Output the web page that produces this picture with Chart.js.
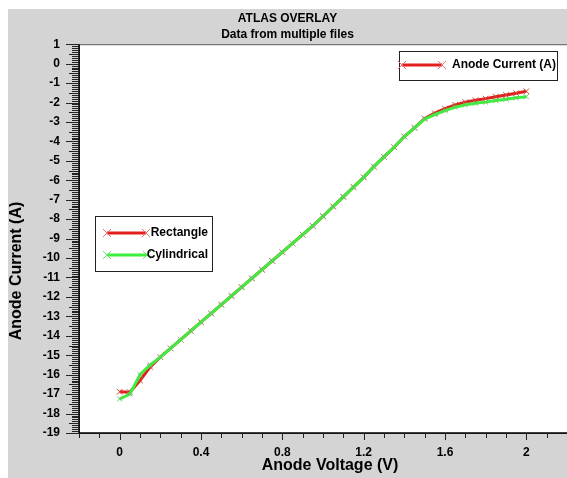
<!DOCTYPE html>
<html>
<head>
<meta charset="utf-8">
<script src="https://cdn.jsdelivr.net/npm/chart.js@4.4.0/dist/chart.umd.min.js"></script>
<style>
    html, body { margin: 0; padding: 0; background: #ffffff; }
    #wrap { position: absolute; left: 8px; top: 9px; width: 559px; height: 469px; background: #d4d4d4; }
</style>
</head>
<body>
<div id="wrap"><canvas id="atlasChart" width="559" height="469"></canvas></div>
<script>
    "use strict";

    // Anode voltage sweep (V)
    var voltage = [0, 0.05, 0.1, 0.15, 0.2, 0.25, 0.3, 0.35, 0.4, 0.45,
        0.5, 0.55, 0.6, 0.65, 0.7, 0.75, 0.8, 0.85, 0.9, 0.95,
        1.0, 1.05, 1.1, 1.15, 1.2, 1.25, 1.3, 1.35, 1.4, 1.45,
        1.5, 1.55, 1.6, 1.65, 1.7, 1.75, 1.8, 1.85, 1.9, 1.95, 2.0];

    // Anode current (A) for each file
    var rectangleCurrent = [-16.88, -16.9, -16.3, -15.6, -15.1, -14.65, -14.2, -13.75, -13.3, -12.85,
        -12.4, -11.95, -11.5, -11.05, -10.6, -10.15, -9.7, -9.25, -8.8, -8.35,
        -7.85, -7.35, -6.85, -6.35, -5.85, -5.3, -4.8, -4.3, -3.75, -3.3,
        -2.82, -2.55, -2.32, -2.12, -1.98, -1.88, -1.8, -1.7, -1.61, -1.52, -1.42];
    var cylindricalCurrent = [-17.25, -17.0, -16.0, -15.5, -15.1, -14.65, -14.2, -13.75, -13.3, -12.85,
        -12.4, -11.95, -11.5, -11.05, -10.6, -10.15, -9.7, -9.25, -8.8, -8.35,
        -7.85, -7.35, -6.85, -6.35, -5.85, -5.3, -4.8, -4.3, -3.75, -3.3,
        -2.85, -2.62, -2.42, -2.24, -2.12, -2.04, -1.98, -1.9, -1.83, -1.76, -1.7];

    var seriesNames = ['Rectangle', 'Cylindrical'];
    var overlayLegend = 'Anode Current (A)';
    var titleLines = ['ATLAS OVERLAY', 'Data from multiple files'];
    var xTitle = 'Anode Voltage (V)';
    var yTitle = 'Anode Current (A)';
    var xLabelTicks = [0, 0.4, 0.8, 1.2, 1.6, 2];

    var RED = '#e31e1e';
    var GREEN = '#3df03d';
    var FONT = 'Liberation Sans, Arial, sans-serif';

    function toPoints(ys) {
        return voltage.map(function (v, i) { return { x: v, y: ys[i] }; });
    }

    function drawCross(ctx, x, y, r, color) {
        ctx.save();
        ctx.strokeStyle = color;
        ctx.lineWidth = 1;
        ctx.beginPath();
        ctx.moveTo(x - r, y - r); ctx.lineTo(x + r, y + r);
        ctx.moveTo(x - r, y + r); ctx.lineTo(x + r, y - r);
        ctx.stroke();
        ctx.restore();
    }

    function legendLine(ctx, x1, x2, y, color, markColor) {
        ctx.save();
        ctx.strokeStyle = color;
        ctx.lineWidth = 3;
        ctx.beginPath();
        ctx.moveTo(x1, y); ctx.lineTo(x2, y);
        ctx.stroke();
        ctx.restore();
        drawCross(ctx, x1, y, 4, markColor);
        drawCross(ctx, x2, y, 4, markColor);
    }

    var atlasPlugin = {
        id: 'atlasFrame',
        beforeDraw: function (chart) {
            var a = chart.chartArea, ctx = chart.ctx;
            ctx.save();
            ctx.fillStyle = '#ffffff';
            ctx.fillRect(a.left, a.top, a.right - a.left, a.bottom - a.top);
            ctx.restore();
        },
        afterDraw: function (chart) {
            var a = chart.chartArea, ctx = chart.ctx;
            var xs = chart.scales.x, ys = chart.scales.y;
            var i, p, len;
            ctx.save();

            // frame
            ctx.strokeStyle = '#555555';
            ctx.lineWidth = 1;
            ctx.strokeRect(a.left + 0.5, a.top + 0.5, a.right - a.left, a.bottom - a.top);
            ctx.strokeStyle = '#000000';
            ctx.lineWidth = 1.5;
            ctx.beginPath();
            ctx.moveTo(a.left, a.top); ctx.lineTo(a.left, a.bottom); ctx.lineTo(a.right, a.bottom);
            ctx.stroke();

            // y tick marks, tenths of an amp
            ctx.lineWidth = 1;
            ctx.strokeStyle = '#222222';
            ctx.beginPath();
            for (i = -190; i <= 10; i++) {
                p = Math.round(ys.getPixelForValue(i / 10)) + 0.5;
                len = (i % 10 === 0) ? 13 : ((i % 5 === 0) ? 10 : 7);
                ctx.moveTo(a.left - len, p); ctx.lineTo(a.left, p);
            }
            // x tick marks
            for (i = -2; i <= 22; i++) {
                p = Math.round(xs.getPixelForValue(i / 10)) + 0.5;
                len = (i % 4 === 0 && i >= 0 && i <= 20) ? 7 : 5;
                ctx.moveTo(p, a.bottom); ctx.lineTo(p, a.bottom + len);
            }
            ctx.stroke();

            // axis titles
            ctx.fillStyle = '#000000';
            ctx.font = 'bold 16px ' + FONT;
            ctx.textAlign = 'center';
            ctx.textBaseline = 'middle';
            ctx.fillText(xTitle, 322, 457);
            ctx.translate(9, 262);
            ctx.rotate(-Math.PI / 2);
            ctx.fillText(yTitle, 0, 0);
            ctx.restore();

            // legend boxes
            ctx.save();
            ctx.fillStyle = '#ffffff';
            ctx.strokeStyle = '#222222';
            ctx.lineWidth = 1;
            ctx.fillRect(391, 42, 158, 29);
            ctx.strokeRect(391.5, 42.5, 158, 29);
            ctx.fillRect(87, 207, 117, 55);
            ctx.strokeRect(87.5, 207.5, 117, 55);

            legendLine(ctx, 394, 434, 56, RED, '#ee7070');
            legendLine(ctx, 99, 138, 224, RED, '#ee7070');
            legendLine(ctx, 99, 139, 246, GREEN, '#70e070');

            ctx.fillStyle = '#000000';
            ctx.font = 'bold 12px ' + FONT;
            ctx.textBaseline = 'middle';
            ctx.textAlign = 'left';
            ctx.fillText(overlayLegend, 444, 56);
            ctx.textAlign = 'right';
            ctx.fillText(seriesNames[0], 200, 224);
            ctx.fillText(seriesNames[1], 200, 246);
            ctx.restore();
        }
    };

    new Chart(document.getElementById('atlasChart'), {
        type: 'line',
        data: {
            datasets: [
                {
                    label: seriesNames[0],
                    data: toPoints(rectangleCurrent),
                    borderColor: RED,
                    borderWidth: 3,
                    pointStyle: 'crossRot',
                    pointRadius: 4,
                    pointBorderWidth: 1,
                    pointBorderColor: '#c84a3a',
                    tension: 0,
                    order: 2
                },
                {
                    label: seriesNames[1],
                    data: toPoints(cylindricalCurrent),
                    borderColor: GREEN,
                    borderWidth: 3,
                    pointStyle: 'crossRot',
                    pointRadius: 3.5,
                    pointBorderWidth: 1,
                    pointBorderColor: '#66c866',
                    tension: 0,
                    order: 1
                }
            ]
        },
        options: {
            responsive: false,
            animation: false,
            layout: { padding: 0, autoPadding: false },
            plugins: {
                legend: { display: false },
                tooltip: { enabled: false },
                title: {
                    display: true,
                    text: titleLines,
                    color: '#000000',
                    font: { family: FONT, size: 12, weight: 'bold', lineHeight: 1.3 },
                    padding: { top: 2, bottom: 2 }
                }
            },
            scales: {
                x: {
                    type: 'linear',
                    min: -0.2,
                    max: 2.2,
                    grid: { display: false, drawTicks: false },
                    border: { display: false },
                    afterFit: function (scale) {
                        scale.height = 45;
                        scale.paddingLeft = 0;
                        scale.paddingRight = 0;
                    },
                    afterBuildTicks: function (scale) {
                        scale.ticks = xLabelTicks.map(function (v) { return { value: v }; });
                    },
                    ticks: {
                        autoSkip: false,
                        maxRotation: 0,
                        padding: 12,
                        color: '#000000',
                        font: { family: FONT, size: 12, weight: 'bold' },
                        callback: function (v) { return String(Math.round(v * 10) / 10); }
                    }
                },
                y: {
                    min: -19,
                    max: 1,
                    grid: { display: false, drawTicks: false },
                    border: { display: false },
                    afterFit: function (scale) { scale.width = 71; },
                    ticks: {
                        stepSize: 1,
                        autoSkip: false,
                        padding: 19,
                        color: '#000000',
                        font: { family: FONT, size: 12, weight: 'bold' }
                    }
                }
            }
        },
        plugins: [atlasPlugin]
    });
</script>
</body>
</html>
